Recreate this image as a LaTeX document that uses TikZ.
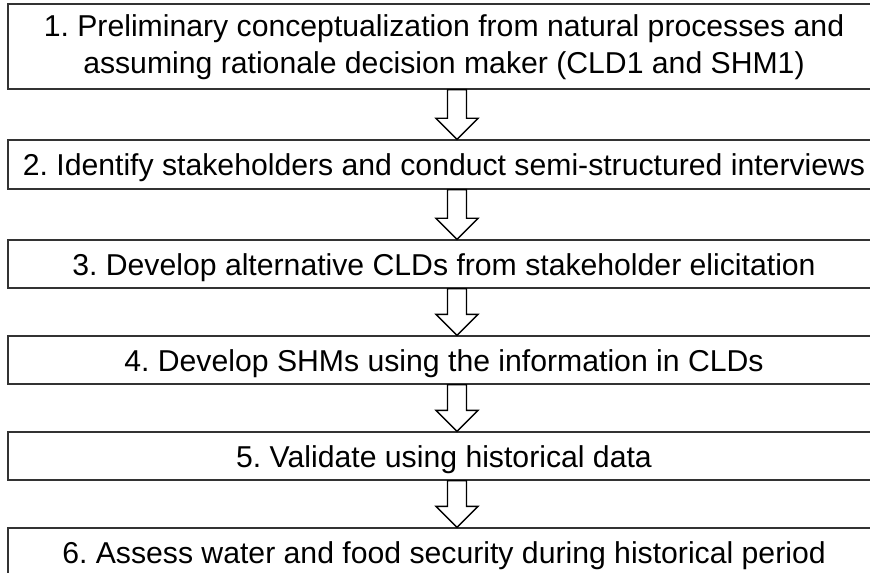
\documentclass[tikz,border=0pt]{standalone}
\usepackage{fontspec}
\setmainfont{Liberation Sans}
\usetikzlibrary{calc}
\frenchspacing
\begin{document}
\begin{tikzpicture}[x=1bp,y=-1bp,
  stage/.style={draw=black!80, line width=1.3bp, fill=white, inner sep=0pt,
    minimum width=872bp, align=center, text height=22.8bp, text depth=0pt,
    font=\fontsize{30.3}{36.6}\selectfont},
  hollow/.style={draw=black, line width=1.3bp, fill=white, line join=miter}]
  \useasboundingbox (0,0) rectangle (870,573);
  \clip (0,0) rectangle (870,573);

  % stages of the procedure
  \node[stage, minimum height=85bp, text height=53.6bp] (b1) at (444,46.5)
    {1. Preliminary conceptualization from natural processes and\\
     assuming rationale decision maker (CLD1 and SHM1)};
  \node[stage, minimum height=49bp] (b2) at (444,164.5)
    {2. Identify stakeholders and conduct semi-structured interviews};
  \node[stage, minimum height=48bp] (b3) at (444,264)
    {3. Develop alternative CLDs from stakeholder elicitation};
  \node[stage, minimum height=48bp] (b4) at (444,360)
    {4. Develop SHMs using the information in CLDs};
  \node[stage, minimum height=48bp] (b5) at (444,456)
    {5. Validate using historical data};
  \node[stage, minimum height=48bp] (b6) at (444,552)
    {6. Assess water and food security during historical period};

  % hollow block arrows between consecutive stages
  \foreach \a/\b in {b1/b2, b2/b3, b3/b4, b4/b5, b5/b6} {
    \draw[hollow] let \p1=(\a.south), \p2=(\b.north) in
      (\x1+3.5bp,\y1) -- (\x1+22.5bp,\y1) -- (\x1+22.5bp,\y2+21bp)
      -- (\x1+34bp,\y2+21bp) -- (\x1+13bp,\y2) -- (\x1-8bp,\y2+21bp)
      -- (\x1+3.5bp,\y2+21bp) -- cycle;
  }
\end{tikzpicture}
\end{document}
